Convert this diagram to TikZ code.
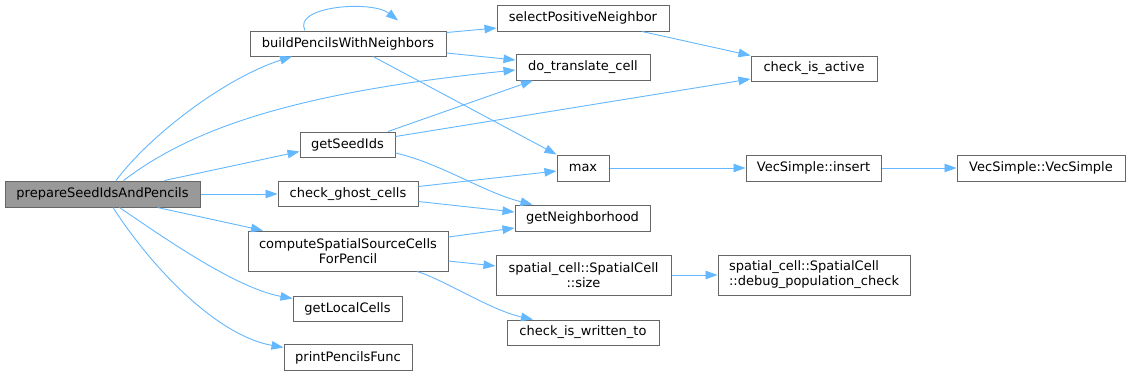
\documentclass[tikz,border=0pt]{standalone}
\usepackage{fontspec}
\setmainfont{DejaVu Sans}
\usetikzlibrary{arrows.meta}
\definecolor{edgeblue}{HTML}{63B8FF}
\definecolor{boxborder}{HTML}{666666}
\definecolor{rootfill}{HTML}{999999}
\tikzset{
  fn/.style={draw=boxborder, line width=1pt, fill=white, inner sep=0pt, anchor=center,
    font=\fontsize{13}{15}\selectfont, text=black},
  rootfn/.style={fn, fill=rootfill},
  call/.style={draw=edgeblue, line width=0.9pt, -{Triangle[length=12pt,width=8.5pt]}},
}
\begin{document}
\begin{tikzpicture}[x=1pt,y=-1pt]
\useasboundingbox[fill=white] (0,0) rectangle (1129,376);
% nodes
\node[rootfn, minimum width=195pt, minimum height=26pt] (root) at (102.5,194) {prepareSeedIdsAndPencils};
\node[fn, minimum width=196pt, minimum height=25pt] (build) at (348,43.5) {buildPencilsWithNeighbors};
\node[fn, minimum width=95pt, minimum height=25pt] (seed) at (347.5,144.5) {getSeedIds};
\node[fn, minimum width=140pt, minimum height=25pt] (ghost) at (348,194) {check\_ghost\_cells};
\node[fn, minimum width=200pt, minimum height=40pt, align=center] (compute) at (348,251) {computeSpatialSourceCells\\ForPencil};
\node[fn, minimum width=109pt, minimum height=25pt] (local) at (347.5,308.5) {getLocalCells};
\node[fn, minimum width=128pt, minimum height=26pt] (print) at (348,357.5) {printPencilsFunc};
\node[fn, minimum width=172pt, minimum height=26pt] (select) at (583,18) {selectPositiveNeighbor};
\node[fn, minimum width=134pt, minimum height=26pt] (dotrans) at (583,67) {do\_translate\_cell};
\node[fn, minimum width=126pt, minimum height=25pt] (active) at (814,68.5) {check\_is\_active};
\node[fn, minimum width=52pt, minimum height=26pt] (max) at (583,168) {max};
\node[fn, minimum width=135pt, minimum height=26pt] (insert) at (813.5,168) {VecSimple::insert};
\node[fn, minimum width=168pt, minimum height=26pt] (vec) at (1041,168) {VecSimple::VecSimple};
\node[fn, minimum width=135pt, minimum height=26pt] (neigh) at (582.5,218) {getNeighborhood};
\node[fn, minimum width=175pt, minimum height=40pt, align=center] (size) at (583.5,275) {spatial\_cell::SpatialCell\\::size};
\node[fn, minimum width=192pt, minimum height=40pt, align=left] (debug) at (814,275) {spatial\_cell::SpatialCell\\::debug\_population\_check};
\node[fn, minimum width=152pt, minimum height=25pt] (written) at (583,332.5) {check\_is\_written\_to};
% edges from root
\draw[call] ([xshift=13.5pt]root.north) .. controls (150,135) and (225,78) .. ([xshift=-56pt]build.south);
\draw[call] ([xshift=21pt]root.north) .. controls (190,130) and (290,93) .. ([yshift=-3pt]dotrans.west);
\draw[call] ([xshift=62pt]root.north) -- ([yshift=-7pt]seed.west);
\draw[call] (root.east) -- (ghost.west);
\draw[call] ([xshift=55pt]root.south) -- ([xshift=-85pt]compute.north);
\draw[call] ([xshift=17pt]root.south) .. controls (160,235) and (235,288) .. ([yshift=10pt]local.west);
\draw[call] ([xshift=10.5pt]root.south) .. controls (150,265) and (215,335) .. ([yshift=10pt]print.west);
% build
\draw[call] ([xshift=-43pt]build.north) .. controls (292,6) and (372,0) .. ([xshift=50pt,yshift=10pt]build.north);
\draw[call] ([yshift=11pt]build.east) -- ([yshift=-10pt]select.west);
\draw[call] ([yshift=-9.5pt]build.east) -- ([yshift=7pt]dotrans.west);
\draw[call] ([xshift=25pt]build.south) -- (max.north west);
% select
\draw[call] ([xshift=59pt]select.south) -- (active.north west);
% seed
\draw[call] ([xshift=40.5pt]seed.north) -- ([xshift=-50pt]dotrans.south);
\draw[call] ([yshift=8pt]seed.east) -- ([yshift=-10.5pt]active.west);
\draw[call] ([yshift=-8.5pt]seed.east) .. controls (440,163) and (485,193) .. ([xshift=-50pt]neigh.north);
% ghost
\draw[call] ([yshift=7.5pt]ghost.east) -- ([yshift=-3pt]max.west);
\draw[call] ([yshift=-7.5pt]ghost.east) -- ([yshift=6pt]neigh.west);
% compute
\draw[call] ([yshift=14pt]compute.east) -- ([yshift=-10pt]neigh.west);
\draw[call] ([yshift=-10pt]compute.east) -- ([yshift=9pt]size.west);
\draw[call] ([xshift=69pt]compute.south) .. controls (445,280) and (490,310) .. ([xshift=-50pt]written.north);
% others
\draw[call] (max.east) -- (insert.west);
\draw[call] (insert.east) -- (vec.west);
\draw[call] (size.east) -- (debug.west);
\end{tikzpicture}
\end{document}
